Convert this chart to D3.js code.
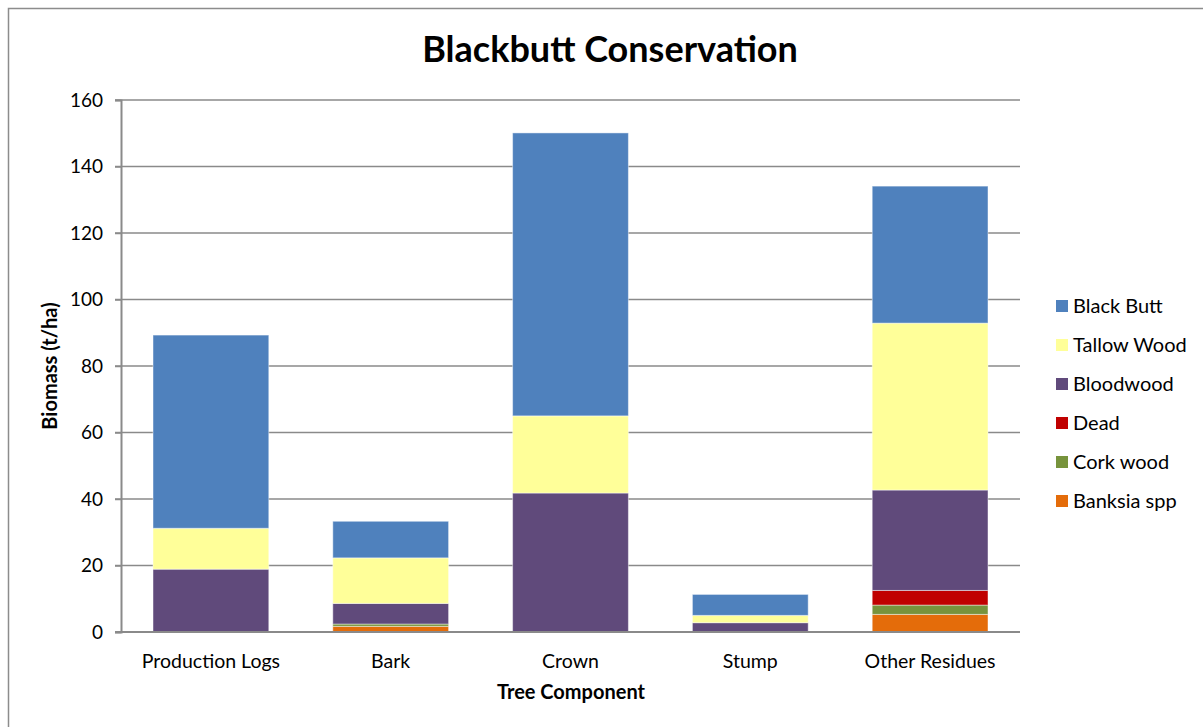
<!DOCTYPE html>
<html>
<head>
<meta charset="utf-8">
<script src="https://cdn.jsdelivr.net/npm/d3@7"></script>
<style>
  html, body { margin: 0; padding: 0; background: #fff; }
  svg { display: block; font-family: Lato, "Open Sans", sans-serif; }
</style>
</head>
<body>
<svg id="chart" width="1203" height="727"></svg>
<script>
const categories = ["Production Logs", "Bark", "Crown", "Stump", "Other Residues"];
const seriesNames = ["Banksia spp", "Cork wood", "Dead", "Bloodwood", "Tallow Wood", "Black Butt"];
const banksia   = [0, 1.7, 0, 0, 5.3];
const corkWood  = [0, 0.7, 0, 0, 2.8];
const dead      = [0, 0, 0, 0, 4.4];
const bloodwood = [18.9, 6.2, 41.8, 2.8, 30.2];
const tallowWood= [12.3, 13.7, 23.2, 2.2, 50.2];
const blackButt = [58.1, 11.0, 85.1, 6.3, 41.2];
const yTicks = [0, 20, 40, 60, 80, 100, 120, 140, 160];
const colors = ["#E46C0A", "#77933C", "#C00000", "#604A7B", "#FFFF99", "#4F81BD"];
const legendOrder = ["Black Butt", "Tallow Wood", "Bloodwood", "Dead", "Cork wood", "Banksia spp"];

const seriesValues = [banksia, corkWood, dead, bloodwood, tallowWood, blackButt];
const rows = categories.map((c, i) => {
  const r = { category: c };
  seriesNames.forEach((s, j) => r[s] = seriesValues[j][i]);
  return r;
});

const svg = d3.select("#chart");
const pLeft = 121, pRight = 1020, pTop = 100, pBottom = 632;

// outer border
svg.append("rect").attr("x", 8.5).attr("y", 8.5).attr("width", 1220).attr("height", 760)
  .attr("fill", "none").attr("stroke", "#8c8c8c").attr("stroke-width", 1.5);

const x = d3.scaleBand().domain(categories).range([pLeft, pRight])
  .paddingInner(0.356).paddingOuter(0.178);
const y = d3.scaleLinear().domain([0, 160]).range([pBottom, pTop]);
const color = d3.scaleOrdinal().domain(seriesNames).range(colors);

// gridlines
svg.append("g").selectAll("line").data(yTicks.filter(t => t > 0)).join("line")
  .attr("x1", pLeft - 6).attr("x2", pRight)
  .attr("y1", d => y(d)).attr("y2", d => y(d))
  .attr("stroke", "#8a8a8a").attr("stroke-width", 1.5);

// y axis
const yAxis = svg.append("g").attr("transform", `translate(${pLeft},0)`)
  .call(d3.axisLeft(y).tickValues(yTicks).tickSize(6).tickPadding(12));
yAxis.select(".domain").attr("stroke", "#8a8a8a").attr("stroke-width", 2);
yAxis.selectAll(".tick line").attr("stroke", "#8a8a8a").attr("stroke-width", 1.5);
yAxis.selectAll(".tick text").attr("font-size", 19).attr("fill", "#000")
  .attr("font-family", "Lato, 'Open Sans', sans-serif");

// bars
const stack = d3.stack().keys(seriesNames)(rows);
svg.append("g").selectAll("g").data(stack).join("g")
  .attr("fill", d => color(d.key))
  .selectAll("rect").data(d => d).join("rect")
  .attr("x", d => x(d.data.category))
  .attr("width", x.bandwidth())
  .attr("y", d => y(d[1]))
  .attr("height", d => Math.max(0, y(d[0]) - y(d[1])))
  .attr("stroke", "rgba(255,255,255,0.45)").attr("stroke-width", 1);

// x axis line
svg.append("line").attr("x1", pLeft - 6).attr("x2", pRight).attr("y1", pBottom).attr("y2", pBottom)
  .attr("stroke", "#8a8a8a").attr("stroke-width", 2);

// category labels
svg.append("g").selectAll("text").data(categories).join("text")
  .attr("x", d => x(d) + x.bandwidth() / 2).attr("y", 668)
  .attr("text-anchor", "middle").attr("font-size", 19.5).text(d => d);

// title
svg.append("text").attr("x", 610).attr("y", 62).attr("text-anchor", "middle")
  .attr("font-size", 36).attr("font-weight", "bold").text("Blackbutt Conservation");

// axis titles
svg.append("text").attr("x", 571).attr("y", 699).attr("text-anchor", "middle")
  .attr("font-size", 20).attr("font-weight", "bold").text("Tree Component");
svg.append("text").attr("transform", "translate(57,366) rotate(-90)")
  .attr("text-anchor", "middle").attr("font-size", 20).attr("font-weight", "bold")
  .text("Biomass (t/ha)");

// legend
const lg = svg.append("g").selectAll("g").data(legendOrder).join("g")
  .attr("transform", (d, i) => `translate(1056,${306 + i * 39})`);
lg.append("rect").attr("x", 0).attr("y", -6).attr("width", 12).attr("height", 12)
  .attr("fill", d => color(d));
lg.append("text").attr("x", 17).attr("y", 7).attr("font-size", 20).text(d => d);
</script>
</body>
</html>
